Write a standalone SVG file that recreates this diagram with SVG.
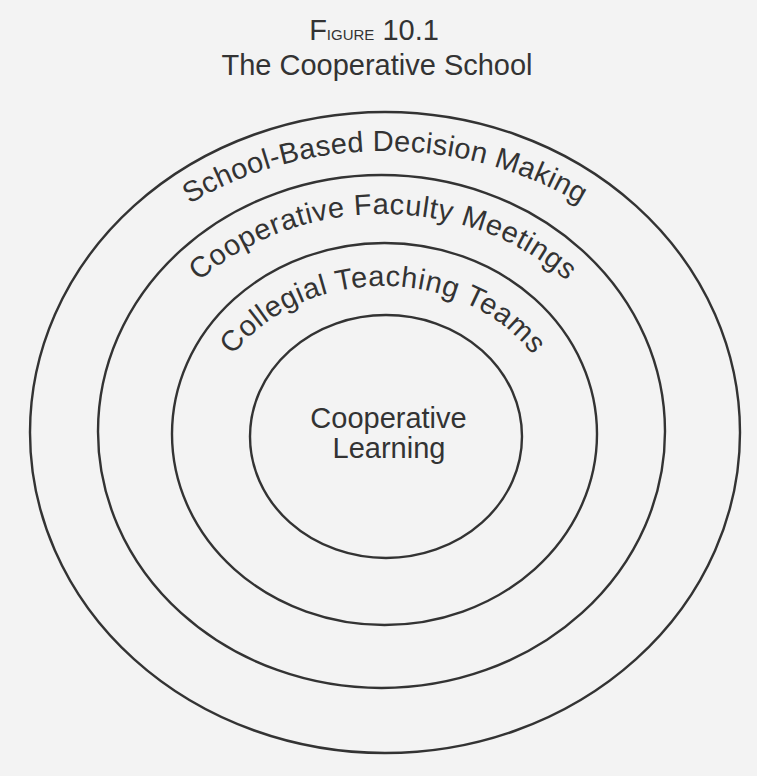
<svg xmlns="http://www.w3.org/2000/svg" width="757" height="776" viewBox="0 0 757 776">
<style>
.ring{fill:none;stroke:#333;stroke-width:2.4}
.lbl{font-family:"Liberation Sans",Arial,sans-serif;fill:#333;font-size:29px}
.arc{letter-spacing:0.6px}
</style>
<defs>
<path id="p1" d="M 50,434 A 335 283 0 0 1 720,434"/>
<path id="p2" d="M 128,433 A 255 219 0 0 1 638,433"/>
<path id="p3" d="M 205,436 A 178 150 0 0 1 561,436"/>
</defs>
<rect width="757" height="776" fill="#f3f3f3"/>
<g id="title">
<text class="lbl" x="374" y="40" text-anchor="middle" font-size="19">F<tspan font-size="15">IGURE</tspan> 10.1</text>
<text class="lbl" x="377" y="75" text-anchor="middle" font-size="32">The Cooperative School</text>
</g>
<g id="ring-school">
<ellipse class="ring" cx="385" cy="432.5" rx="355" ry="320.5"/>
<text class="lbl arc" style="letter-spacing:0.3px"><textPath href="#p1" startOffset="50%" text-anchor="middle">School-Based Decision Making</textPath></text>
</g>
<g id="ring-faculty">
<ellipse class="ring" cx="381.5" cy="431.5" rx="283.5" ry="256.5"/>
<text class="lbl arc"><textPath href="#p2" startOffset="50%" text-anchor="middle">Cooperative Faculty Meetings</textPath></text>
</g>
<g id="ring-teams">
<ellipse class="ring" cx="384.5" cy="434" rx="212.5" ry="191"/>
<text class="lbl arc"><textPath href="#p3" startOffset="50%" text-anchor="middle">Collegial Teaching Teams</textPath></text>
</g>
<g id="core">
<ellipse class="ring" cx="386" cy="436.5" rx="136" ry="121.5"/>
<text class="lbl" x="388.5" y="428" text-anchor="middle" font-size="31">Cooperative</text>
<text class="lbl" x="389" y="458" text-anchor="middle" font-size="31">Learning</text>
</g>
</svg>
